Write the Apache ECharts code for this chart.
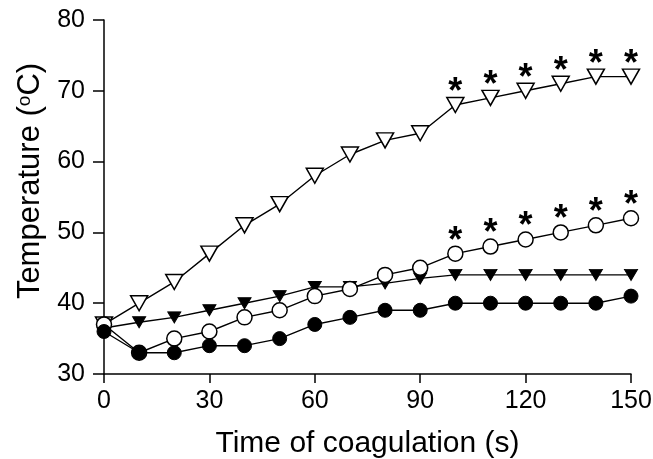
<!DOCTYPE html>
<html>
<head>
<meta charset="utf-8">
<script src="https://cdn.jsdelivr.net/npm/echarts@6/dist/echarts.min.js"></script>
<style>html,body{margin:0;padding:0;background:#fff;}#chart{width:653px;height:459px;}</style>
</head>
<body>
<div id="chart"></div>
<script>
// Time of coagulation (s)
var times = [0, 10, 20, 30, 40, 50, 60, 70, 80, 90, 100, 110, 120, 130, 140, 150];
// open down-triangles
var openTriangle = [37, 40, 43, 47, 51, 54, 58, 61, 63, 64, 68, 69, 70, 71, 72, 72];
// filled down-triangles
var filledTriangle = [36.5, 37.3, 38, 39, 40, 41, 42.3, 42.3, 42.8, 43.5, 44, 44, 44, 44, 44, 44];
// open circles
var openCircle = [37, 33, 35, 36, 38, 39, 41, 42, 44, 45, 47, 48, 49, 50, 51, 52];
// filled circles
var filledCircle = [36, 33, 33, 34, 34, 35, 37, 38, 39, 39, 40, 40, 40, 40, 40, 41];
// significance markers (1 = asterisk shown)
var sigOpenTriangle = [0, 0, 0, 0, 0, 0, 0, 0, 0, 0, 1, 1, 1, 1, 1, 1];
var sigOpenCircle = [0, 0, 0, 0, 0, 0, 0, 0, 0, 0, 1, 1, 1, 1, 1, 1];
var xTicks = [0, 30, 60, 90, 120, 150];
var yTicks = [30, 40, 50, 60, 70, 80];

var FONT = '"Liberation Sans", Arial, sans-serif';
var starLabel = {show: true, formatter: '*', position: 'inside', offset: [0, -12],
  fontSize: 36, fontWeight: 'bold', color: '#000', fontFamily: FONT};

function build(vals, sig) {
  return vals.map(function (v, i) {
    var item = {value: [times[i], v]};
    if (sig && sig[i]) item.label = starLabel;
    return item;
  });
}

var chart = echarts.init(document.getElementById('chart'));
var lineStyle = {color: '#000', width: 1.4};
chart.setOption({
  animation: false,
  backgroundColor: '#fff',
  grid: {left: 104, right: 22, top: 20, bottom: 85, outerBoundsMode: 'none'},
  xAxis: {
    type: 'value', min: xTicks[0], max: xTicks[xTicks.length - 1], interval: 30,
    name: 'Time of coagulation (s)', nameLocation: 'middle', nameGap: 55,
    nameTextStyle: {fontSize: 30, color: '#000', fontFamily: FONT},
    axisLine: {show: true, onZero: false, lineStyle: {color: '#000', width: 1.5}},
    axisTick: {show: true, length: 9, lineStyle: {color: '#000', width: 1.5}},
    axisLabel: {fontSize: 25, color: '#000', margin: 15, fontFamily: FONT},
    splitLine: {show: false}
  },
  yAxis: {
    type: 'value', min: yTicks[0], max: yTicks[yTicks.length - 1], interval: 10,
    name: 'Temperature ({sup|o}C)', nameLocation: 'middle', nameGap: 58,
    nameTextStyle: {fontSize: 31, color: '#000', fontFamily: FONT, padding: [0, 0, 0, 32],
      rich: {sup: {fontSize: 19, color: '#000', fontFamily: FONT, verticalAlign: 'top', lineHeight: 30}}},
    axisLine: {show: true, onZero: false, lineStyle: {color: '#000', width: 1.5}},
    axisTick: {show: true, length: 11, lineStyle: {color: '#000', width: 1.5}},
    axisLabel: {fontSize: 25, color: '#000', margin: 19, fontFamily: FONT},
    splitLine: {show: false}
  },
  series: [
    {type: 'line', data: build(openTriangle, sigOpenTriangle), symbol: 'triangle', symbolRotate: 180,
      symbolSize: [17, 15], lineStyle: lineStyle,
      itemStyle: {color: '#fff', borderColor: '#000', borderWidth: 1.5}},
    {type: 'line', data: build(filledTriangle), symbol: 'triangle', symbolRotate: 180,
      symbolSize: [13, 11], lineStyle: lineStyle,
      itemStyle: {color: '#000', borderColor: '#000', borderWidth: 1}},
    {type: 'line', data: build(openCircle, sigOpenCircle), symbol: 'circle',
      symbolSize: 15, lineStyle: lineStyle,
      itemStyle: {color: '#fff', borderColor: '#000', borderWidth: 1.5}},
    {type: 'line', data: build(filledCircle), symbol: 'circle',
      symbolSize: 14, lineStyle: lineStyle,
      itemStyle: {color: '#000', borderColor: '#000', borderWidth: 1}}
  ]
});
</script>
</body>
</html>
